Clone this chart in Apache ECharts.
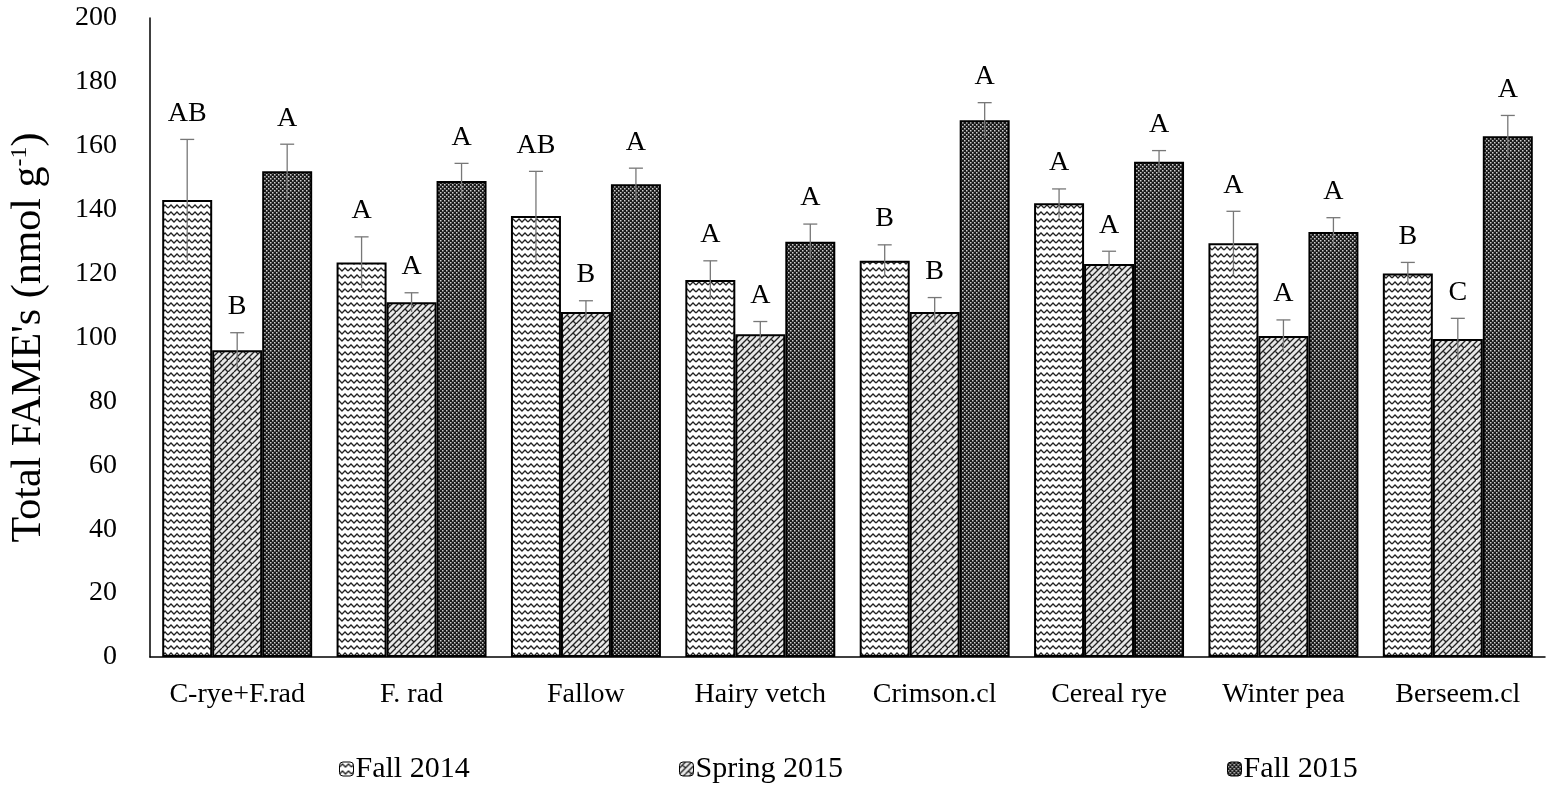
<!DOCTYPE html>
<html lang="en">
<head>
    <meta charset="UTF-8">
    <title>Total FAME's</title>
    <style>
        html, body { margin: 0; padding: 0; background: #fff; }
        #main { width: 1550px; height: 791px; }
    </style>
    <script src="https://cdn.jsdelivr.net/npm/echarts@6/dist/echarts.min.js"></script>
</head>
<body>
    <div id="main"></div>
    <script>
        // data
        var categories = ['C-rye+F.rad', 'F. rad', 'Fallow', 'Hairy vetch', 'Crimson.cl', 'Cereal rye', 'Winter pea', 'Berseem.cl'];
        var seriesNames = ['Fall 2014', 'Spring 2015', 'Fall 2015'];
        var fall2014 = [143, 123.5, 138, 118, 124, 142, 129.5, 120];
        var spring2015 = [96, 111, 108, 101, 108, 123, 100.5, 99.5];
        var fall2015 = [152, 149, 148, 130, 168, 155, 133, 163];
        var errFall2014 = [19, 8, 14, 6, 5, 4.5, 10, 3.5];
        var errSpring2015 = [5.5, 3, 3.5, 4, 4.5, 4, 5, 6.5];
        var errFall2015 = [8.5, 5.5, 5, 5.5, 5.5, 3.5, 4.5, 6.5];
        var letFall2014 = ['AB', 'A', 'AB', 'A', 'B', 'A', 'A', 'B'];
        var letSpring2015 = ['B', 'A', 'B', 'A', 'B', 'A', 'A', 'C'];
        var letFall2015 = ['A', 'A', 'A', 'A', 'A', 'A', 'A', 'A'];

        var FONT = '"Liberation Serif", "Times New Roman", serif';

        // hatch patterns, drawn on small canvases
        function makeTile(w, h, draw) {
            var c = document.createElement('canvas');
            c.width = w; c.height = h;
            draw(c.getContext('2d'), w, h);
            return c;
        }
        var wavy = makeTile(12, 7, function (g, w, h) {
            g.fillStyle = '#fff'; g.fillRect(0, 0, w, h);
            g.strokeStyle = '#222'; g.lineWidth = 1.3;
            g.beginPath();
            g.moveTo(0, 5); g.lineTo(3, 2); g.lineTo(6, 5); g.lineTo(9, 2); g.lineTo(12, 5);
            g.stroke();
        });
        var brick = makeTile(12, 12, function (g, w, h) {
            g.fillStyle = '#e8e8e8'; g.fillRect(0, 0, w, h);
            g.strokeStyle = '#222'; g.lineWidth = 1.3;
            g.beginPath();
            g.moveTo(0, 12); g.lineTo(12, 0);
            g.moveTo(-6, 12); g.lineTo(6, 0);
            g.moveTo(6, 12); g.lineTo(18, 0);
            g.moveTo(3, 3); g.lineTo(6, 6);
            g.moveTo(9, 9); g.lineTo(12, 12);
            g.stroke();
        });
        var dots = makeTile(4, 4, function (g, w, h) {
            g.fillStyle = '#1a1a1a'; g.fillRect(0, 0, w, h);
            g.fillStyle = '#cfcfcf';
            g.fillRect(0, 0, 1.5, 1.5);
            g.fillRect(2, 2, 1.5, 1.5);
        });
        var patterns = [wavy, brick, dots];

        var values = [fall2014, spring2015, fall2015];
        var errs = [errFall2014, errSpring2015, errFall2015];
        var letters = [letFall2014, letSpring2015, letFall2015];

        // one row per bar for error bars + letters
        var errData = [];
        for (var s = 0; s < 3; s++) {
            for (var i = 0; i < categories.length; i++) {
                errData.push([i, values[s][i], errs[s][i], s, letters[s][i]]);
            }
        }

        var barSeries = seriesNames.map(function (name, s) {
            return {
                name: name,
                type: 'bar',
                data: values[s],
                barGap: '0%',
                barCategoryGap: '14%',
                itemStyle: {
                    color: { image: patterns[s], repeat: 'repeat' },
                    borderColor: '#000',
                    borderWidth: 2
                },
                emphasis: { disabled: true }
            };
        });

        var errSeries = {
            type: 'custom',
            data: errData,
            encode: { x: 0, y: 1 },
            z: 10,
            silent: true,
            renderItem: function (params, api) {
                var cat = api.value(0);
                var v = api.value(1);
                var e = api.value(2);
                var s = api.value(3);
                var catW = api.size([1, 0])[0];
                var bw = catW * 0.86 / 3;
                var x = api.coord([cat, v])[0] + (s - 1) * bw;
                var yLow = api.coord([cat, v - e])[1];
                var yHigh = api.coord([cat, v + e])[1];
                var stroke = { stroke: '#777', lineWidth: 1.3 };
                return {
                    type: 'group',
                    children: [
                        { type: 'line', shape: { x1: x, y1: yLow, x2: x, y2: yHigh }, style: stroke },
                        { type: 'line', shape: { x1: x - 7, y1: yHigh, x2: x + 7, y2: yHigh }, style: stroke },
                        {
                            type: 'text',
                            style: {
                                x: x, y: yHigh - 12,
                                text: errData[params.dataIndex][4],
                                align: 'center', verticalAlign: 'bottom',
                                font: '28px ' + FONT,
                                fill: '#000'
                            }
                        }
                    ]
                };
            }
        };

        var legendBase = {
            bottom: 2,
            itemWidth: 14,
            itemHeight: 14,
            itemStyle: { borderColor: '#000', borderWidth: 1 },
            textStyle: { fontFamily: FONT, fontSize: 30, color: '#000', padding: [0, 0, 0, -3] },
            itemGap: 0,
            selectedMode: false
        };

        var chart = echarts.init(document.getElementById('main'));
        chart.setOption({
            animation: false,
            textStyle: { fontFamily: FONT },
            grid: { left: 146, right: 5, top: 18, bottom: 134 },
            legend: [
                Object.assign({}, legendBase, { left: 334, data: ['Fall 2014'] }),
                Object.assign({}, legendBase, { left: 674, data: ['Spring 2015'] }),
                Object.assign({}, legendBase, { left: 1222, data: ['Fall 2015'] })
            ],
            xAxis: {
                type: 'category',
                data: categories,
                axisLine: { lineStyle: { color: '#000', width: 1.5 } },
                axisTick: { show: false },
                axisLabel: { interval: 0, fontFamily: FONT, fontSize: 28, color: '#000', margin: 24 }
            },
            yAxis: {
                type: 'value',
                min: 0,
                max: 200,
                interval: 20,
                name: "{n|Total FAME's (nmol g}{sup|-1}{n|)}",
                nameLocation: 'middle',
                nameGap: 100,
                nameRotate: 90,
                nameTextStyle: {
                    rich: {
                        n: { fontFamily: FONT, fontSize: 42, color: '#000' },
                        sup: { fontFamily: FONT, fontSize: 24, color: '#000', verticalAlign: 'top', padding: [0, 0, 18, 0] }
                    }
                },
                axisLine: { show: true, lineStyle: { color: '#000', width: 1.5 } },
                axisTick: { show: false },
                splitLine: { show: false },
                axisLabel: { fontFamily: FONT, fontSize: 28, color: '#000', margin: 33 }
            },
            series: barSeries.concat([errSeries])
        });
    </script>
</body>
</html>
